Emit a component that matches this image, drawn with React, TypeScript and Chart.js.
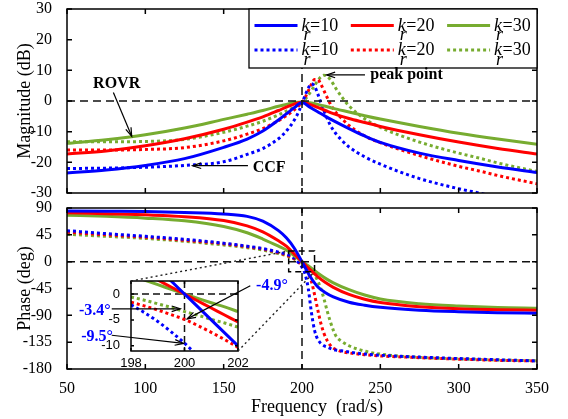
import React, { useEffect, useRef } from "react";
import { Chart, registerables } from "chart.js";
Chart.register(...registerables);

const BLUE = "#0000FF";
const RED = "#FF0000";
const GREEN = "#77AC30";
const SERIF = '"Liberation Serif", "Times New Roman", serif';
const SANS = '"Liberation Sans", Arial, sans-serif';

// ---------- data ----------
const krValues = [10, 20, 30];

const freqSolid = [50, 75, 100, 125, 150, 165, 175, 185, 190, 195, 200, 205, 210, 215, 220, 230, 240, 250, 275, 300, 325, 350];
const magRovr10 = [-23.5, -22.5, -21.0, -18.8, -15.1, -12.4, -9.8, -6.2, -4.2, -2.2, -0.5, -2.0, -3.5, -5.0, -6.4, -9.0, -11.4, -13.5, -17.0, -19.4, -21.5, -23.3];
const magRovr20 = [-17.3, -16.3, -14.6, -12.3, -9.2, -6.9, -5.2, -3.1, -2.0, -1.0, -0.4, -1.1, -2.1, -3.1, -4.1, -5.7, -7.0, -8.3, -11.0, -13.4, -15.5, -17.3];
const magRovr30 = [-13.8, -12.6, -11.0, -8.8, -6.0, -4.3, -3.1, -1.7, -1.1, -0.5, -0.3, -0.6, -1.1, -1.7, -2.4, -3.6, -4.8, -5.9, -8.3, -10.5, -12.4, -14.1];
const phRovr10 = [85, 84.5, 84, 82.5, 80, 76, 68, 52, 40, 23, 0, -24, -42, -52, -59, -68, -73, -76.5, -81.5, -84, -85.5, -86.5];
const phRovr20 = [82, 80.5, 78.5, 75.5, 69, 60, 50, 35, 26, 13, 0, -13, -25, -35, -43, -55, -63, -68.5, -75.5, -79, -80.5, -81.5];
const phRovr30 = [78, 76, 73, 68.5, 59, 48.5, 38, 26, 19.5, 10, 0, -9, -19, -28, -35.5, -47, -56, -62.5, -70.5, -74.5, -77, -78];

const freqDot = [50, 75, 100, 125, 150, 165, 175, 185, 190, 195, 198, 200, 202, 204, 206, 208, 210, 212, 214, 216, 218, 220, 222, 225, 230, 240, 250, 275, 300, 313, 325, 350];
const magCcf10 = [-22.0, -21.9, -21.6, -21.0, -19.8, -17.4, -15.5, -12.3, -9.8, -6.3, -3.4, -0.8, 1.8, 4.2, 5.6, 4.8, 2.4, -0.5, -3.2, -5.6, -7.8, -9.5, -10.9, -12.6, -15.0, -18.2, -20.6, -25.3, -28.6, -30.0, -31.3, -33.5];
const magCcf20 = [-16.0, -16.0, -15.8, -15.2, -13.0, -10.8, -9.0, -6.4, -4.8, -2.9, -1.5, -0.5, 1.2, 3.3, 5.5, 7.0, 7.0, 5.5, 3.4, 1.2, -0.9, -2.6, -4.0, -5.5, -8.0, -11.4, -13.6, -17.8, -21.3, -22.8, -24.3, -27.0];
const magCcf30 = [-13.3, -13.3, -13.2, -12.5, -10.2, -8.2, -6.6, -4.5, -3.3, -2.0, -1.1, -0.4, 0.6, 1.9, 3.4, 5.0, 6.6, 7.8, 8.4, 8.1, 7.0, 5.5, 3.8, 1.6, -1.6, -5.8, -8.6, -13.4, -17.0, -18.6, -20.2, -23.0];
const phCcf10 = [52, 47, 42.5, 37.5, 31, 26, 22, 16, 12.5, 6, -2.1, -9.5, -21, -45, -85, -115, -130, -137, -141, -143, -145.5, -147.5, -148.5, -149.5, -151.5, -155, -157, -160, -162.5, -163.5, -164.5, -166.5];
const phCcf20 = [49.5, 45, 41, 36, 30, 25, 21, 15, 11, 5, -1.6, -4.9, -10.3, -19, -33, -55, -80, -103, -120, -132, -140, -145, -147.5, -150.5, -153, -156, -158, -161, -163.5, -164.5, -165.5, -166.5];
const phCcf30 = [46, 42.5, 39, 34, 28, 23.5, 19.5, 13.5, 10, 4.5, -0.6, -3.4, -6.4, -10, -15, -22, -32, -45, -62, -82, -100, -115, -126, -133, -141, -150, -155, -160.5, -163, -164, -165, -166];

const freqInset = [198, 198.5, 199, 199.5, 200, 200.5, 201, 201.5, 202];
const insRovr10 = [10, 7.5, 5, 2.5, 0, -2.5, -5, -7.5, -10];
const insRovr20 = [5.4, 4.05, 2.7, 1.35, 0, -1.35, -2.7, -4.05, -5.4];
const insRovr30 = [3.6, 2.7, 1.8, 0.9, 0, -0.85, -1.7, -2.5, -3.4];
const insCcf10 = [-2.1, -3.6, -5.3, -7.3, -9.5, -12.0, -14.8, -17.8, -21.0];
const insCcf20 = [-1.6, -2.3, -3.1, -4.0, -4.9, -6.1, -7.4, -8.8, -10.3];
const insCcf30 = [-0.6, -1.2, -1.9, -2.6, -3.4, -4.1, -4.9, -5.6, -6.4];

const freqTicks = [50, 100, 150, 200, 250, 300, 350];
const magTicks = [-30, -20, -10, 0, 10, 20, 30];
const phaseTicks = [-180, -135, -90, -45, 0, 45, 90];
const insetXTicks = [198, 200, 202];
const insetYTicks = [-10, -5, 0];

const topNotes = [
  { text: "ROVR", at: [81.7, 5.6], from: [79.6, 2.8], to: [91.3, -11.5] },
  { text: "CCF", at: [179, -21.9], from: [165.5, -21.1], to: [130.2, -21.1] },
  { text: "peak point", at: [266.7, 8.5], from: [240.2, 8.5], to: [215.7, 8.5] },
];
const insetNotes = [
  { text: "-4.9°", at: [203.27, 1.58], from: [202.46, 1.58], to: [200.1, -4.8] },
  { text: "-3.4°", at: [196.65, -3.19], from: [197.28, -2.86], to: [199.84, -2.86] },
  { text: "-9.5°", at: [196.73, -8.34], from: [197.28, -7.96], to: [199.96, -9.54] },
];
const zoomBox = { f1: 191.5, f2: 208, p1: 18, p2: -17 };

// ---------- helpers ----------
const series = (freq: number[], vals: number[]) => freq.map((f, i) => ({ x: f, y: vals[i] }));

function line(label: string, data: any[], color: string, dotted: boolean, clip?: number) {
  const ds: any = {
    label,
    data,
    borderColor: color,
    backgroundColor: color,
    borderWidth: 3,
    borderDash: dotted ? [3, 3] : [],
    borderCapStyle: "butt",
    pointRadius: 0,
    fill: false,
    cubicInterpolationMode: "monotone",
    dotted,
  };
  if (clip !== undefined) ds.clip = clip;
  return ds;
}

function makeDatasets(fs: number[], fd: number[], s: number[][], d: number[][], clip?: number) {
  const colors = [BLUE, RED, GREEN];
  const out: any[] = [];
  s.forEach((v, i) => out.push(line(`k_r=${krValues[i]}`, series(fs, v), colors[i], false, clip)));
  d.forEach((v, i) => out.push(line(`k_r=${krValues[i]}`, series(fd, v), colors[i], true, clip)));
  return out;
}

function setTicks(vals: number[]) {
  return (scale: any) => {
    scale.ticks = vals.map((v) => ({ value: v }));
  };
}

function fixWidth(w: number) {
  return (s: any) => {
    s.width = w;
    s.paddingTop = 0;
    s.paddingBottom = 0;
  };
}

function drawFrame(chart: any, tickLen: number, lw: number) {
  const { ctx, chartArea: a } = chart;
  const sx = chart.scales.x;
  const sy = chart.scales.y;
  ctx.save();
  ctx.strokeStyle = "#000";
  ctx.lineWidth = lw;
  ctx.setLineDash([]);
  ctx.beginPath();
  sx.ticks.forEach((t: any) => {
    const px = sx.getPixelForValue(t.value);
    ctx.moveTo(px, a.bottom);
    ctx.lineTo(px, a.bottom - tickLen);
    ctx.moveTo(px, a.top);
    ctx.lineTo(px, a.top + tickLen);
  });
  sy.ticks.forEach((t: any) => {
    const py = sy.getPixelForValue(t.value);
    ctx.moveTo(a.left, py);
    ctx.lineTo(a.left + tickLen, py);
    ctx.moveTo(a.right, py);
    ctx.lineTo(a.right - tickLen, py);
  });
  ctx.stroke();
  ctx.strokeRect(a.left, a.top, a.right - a.left, a.bottom - a.top);
  ctx.restore();
}

function drawRefLines(chart: any, xv: number, yv: number, dash: number[], lw: number) {
  const { ctx, chartArea: a } = chart;
  const px = chart.scales.x.getPixelForValue(xv);
  const py = chart.scales.y.getPixelForValue(yv);
  ctx.save();
  ctx.strokeStyle = "#111";
  ctx.lineWidth = lw;
  ctx.setLineDash(dash);
  ctx.beginPath();
  ctx.moveTo(a.left, py);
  ctx.lineTo(a.right, py);
  ctx.moveTo(px, a.top);
  ctx.lineTo(px, a.bottom);
  ctx.stroke();
  ctx.restore();
}

function arrow(ctx: CanvasRenderingContext2D, x1: number, y1: number, x2: number, y2: number) {
  const head = 9;
  const ang = Math.atan2(y2 - y1, x2 - x1);
  ctx.save();
  ctx.strokeStyle = "#000";
  ctx.lineWidth = 1.2;
  ctx.setLineDash([]);
  ctx.beginPath();
  ctx.moveTo(x1, y1);
  ctx.lineTo(x2, y2);
  ctx.stroke();
  ctx.beginPath();
  ctx.moveTo(x2 - head * Math.cos(ang - 0.32), y2 - head * Math.sin(ang - 0.32));
  ctx.lineTo(x2, y2);
  ctx.lineTo(x2 - head * Math.cos(ang + 0.32), y2 - head * Math.sin(ang + 0.32));
  ctx.stroke();
  ctx.restore();
}

function drawNotes(chart: any, notes: any[], color: string, font: string) {
  const { ctx } = chart;
  const sx = chart.scales.x;
  const sy = chart.scales.y;
  notes.forEach((n) => {
    arrow(ctx, sx.getPixelForValue(n.from[0]), sy.getPixelForValue(n.from[1]), sx.getPixelForValue(n.to[0]), sy.getPixelForValue(n.to[1]));
    ctx.save();
    ctx.font = font;
    ctx.fillStyle = color;
    ctx.textAlign = "center";
    ctx.textBaseline = "middle";
    ctx.fillText(n.text, sx.getPixelForValue(n.at[0]), sy.getPixelForValue(n.at[1]));
    ctx.restore();
  });
}

function drawLegend(chart: any) {
  const { ctx, chartArea: a } = chart;
  const w = 288;
  const h = 59;
  const left = a.right - w;
  const top = a.top;
  ctx.save();
  ctx.fillStyle = "#fff";
  ctx.fillRect(left, top, w, h);
  ctx.strokeStyle = "#000";
  ctx.lineWidth = 1.3;
  ctx.setLineDash([]);
  ctx.strokeRect(left, top, w, h);
  chart.data.datasets.forEach((ds: any, i: number) => {
    const row = ds.dotted ? 1 : 0;
    const col = i % 3;
    const x0 = left + 5.5 + col * 96.3;
    const y0 = top + (row === 0 ? 16.5 : 41);
    ctx.strokeStyle = ds.borderColor;
    ctx.lineWidth = 3;
    ctx.lineCap = "butt";
    ctx.setLineDash(ds.borderDash);
    ctx.beginPath();
    ctx.moveTo(x0, y0);
    ctx.lineTo(x0 + 43, y0);
    ctx.stroke();
    const [kr, val] = ds.label.split("=");
    ctx.fillStyle = "#000";
    ctx.textAlign = "left";
    ctx.textBaseline = "alphabetic";
    ctx.font = `italic 18px ${SERIF}`;
    ctx.fillText(kr.charAt(0), x0 + 47, y0 + 5);
    ctx.fillText(kr.charAt(2), x0 + 49, y0 + 14.5);
    ctx.font = `18px ${SERIF}`;
    ctx.fillText("=" + val, x0 + 55.5, y0 + 5);
  });
  ctx.restore();
}

function drawText(ctx: CanvasRenderingContext2D, text: string, x: number, y: number, rot: number, font: string) {
  ctx.save();
  ctx.translate(x, y);
  ctx.rotate(rot);
  ctx.font = font;
  ctx.fillStyle = "#000";
  ctx.textAlign = "center";
  ctx.textBaseline = "middle";
  ctx.fillText(text, 0, 0);
  ctx.restore();
}

const tickFont = { family: SERIF, size: 16 };

function topConfig(): any {
  return {
    type: "line",
    data: { datasets: makeDatasets(freqSolid, freqDot, [magRovr10, magRovr20, magRovr30], [magCcf10, magCcf20, magCcf30]) },
    options: {
      responsive: false,
      animation: false,
      events: [],
      layout: { padding: { left: 0, right: 31, top: 9, bottom: 7 } },
      plugins: { legend: { display: false }, tooltip: { enabled: false } },
      scales: {
        x: {
          type: "linear", min: 50, max: 350,
          afterBuildTicks: setTicks(freqTicks),
          ticks: { display: false },
          grid: { display: false }, border: { display: false },
          afterFit: (s: any) => { s.height = 0; s.paddingLeft = 0; s.paddingRight = 0; },
        },
        y: {
          type: "linear", min: -30, max: 30,
          afterBuildTicks: setTicks(magTicks),
          ticks: { font: tickFont, color: "#000", padding: 7 },
          grid: { display: false }, border: { display: false },
          afterFit: fixWidth(67),
        },
      },
    },
    plugins: [{
      id: "topDeco",
      afterDatasetsDraw(chart: any) {
        drawRefLines(chart, 200, 0, [8, 5], 1.5);
        drawFrame(chart, 5, 1.5);
      },
      afterDraw(chart: any) {
        drawLegend(chart);
        drawNotes(chart, topNotes, "#000", `bold 16px ${SERIF}`);
        drawText(chart.ctx, "Magnitude (dB)", 25, (chart.chartArea.top + chart.chartArea.bottom) / 2, -Math.PI / 2, `18px ${SERIF}`);
      },
    }],
  };
}

function botConfig(): any {
  return {
    type: "line",
    data: { datasets: makeDatasets(freqSolid, freqDot, [phRovr10, phRovr20, phRovr30], [phCcf10, phCcf20, phCcf30]) },
    options: {
      responsive: false,
      animation: false,
      events: [],
      layout: { padding: { left: 0, right: 31, top: 8, bottom: 0 } },
      plugins: { legend: { display: false }, tooltip: { enabled: false } },
      scales: {
        x: {
          type: "linear", min: 50, max: 350,
          afterBuildTicks: setTicks(freqTicks),
          ticks: { font: tickFont, color: "#000", padding: 2, maxRotation: 0 },
          grid: { display: false }, border: { display: false },
          afterFit: (s: any) => { s.height = 50; },
        },
        y: {
          type: "linear", min: -180, max: 90,
          afterBuildTicks: setTicks(phaseTicks),
          ticks: { font: tickFont, color: "#000", padding: 7 },
          grid: { display: false }, border: { display: false },
          afterFit: fixWidth(67),
        },
      },
    },
    plugins: [{
      id: "botDeco",
      afterDatasetsDraw(chart: any) {
        drawRefLines(chart, 200, 0, [8, 5], 1.5);
        drawFrame(chart, 5, 1.5);
      },
      afterDraw(chart: any) {
        const a = chart.chartArea;
        drawText(chart.ctx, "Phase (deg)", 25, (a.top + a.bottom) / 2, -Math.PI / 2, `18px ${SERIF}`);
        drawText(chart.ctx, "Frequency  (rad/s)", 317, 207, 0, `18px ${SERIF}`);
      },
    }],
  };
}

function insetConfig(main: any): any {
  return {
    type: "line",
    data: { datasets: makeDatasets(freqInset, freqInset, [insRovr10, insRovr20, insRovr30], [insCcf10, insCcf20, insCcf30], 0) },
    options: {
      responsive: false,
      animation: false,
      events: [],
      layout: { padding: { left: 101, right: 330, top: 81, bottom: 48 } },
      plugins: { legend: { display: false }, tooltip: { enabled: false } },
      scales: {
        x: {
          type: "linear", min: 198, max: 202,
          afterBuildTicks: setTicks(insetXTicks),
          ticks: { font: { family: SANS, size: 13 }, color: "#000", padding: -3, maxRotation: 0 },
          grid: { display: false }, border: { display: false },
          afterFit: (s: any) => { s.height = 20; },
        },
        y: {
          type: "linear", min: -11, max: 2.5,
          afterBuildTicks: setTicks(insetYTicks),
          ticks: { font: { family: SANS, size: 13 }, color: "#000", padding: 3 },
          grid: { display: false }, border: { display: false },
          afterFit: fixWidth(30),
        },
      },
    },
    plugins: [{
      id: "insetDeco",
      beforeDatasetsDraw(chart: any) {
        const { ctx, chartArea: a } = chart;
        ctx.save();
        ctx.fillStyle = "#fff";
        ctx.fillRect(a.left, a.top, a.right - a.left, a.bottom - a.top);
        ctx.restore();
        drawRefLines(chart, 200, 0, [7, 4], 1.5);
      },
      afterDatasetsDraw(chart: any) {
        drawFrame(chart, 3, 1.5);
      },
      afterDraw(chart: any) {
        const { ctx, chartArea: a } = chart;
        const mx = main.scales.x;
        const my = main.scales.y;
        const bx1 = mx.getPixelForValue(zoomBox.f1);
        const bx2 = mx.getPixelForValue(zoomBox.f2);
        const by1 = my.getPixelForValue(zoomBox.p1);
        const by2 = my.getPixelForValue(zoomBox.p2);
        ctx.save();
        ctx.strokeStyle = "#000";
        ctx.lineWidth = 1.5;
        ctx.setLineDash([6, 4]);
        ctx.strokeRect(bx1, by1, bx2 - bx1, by2 - by1);
        ctx.strokeStyle = "#222";
        ctx.lineWidth = 1.4;
        ctx.setLineDash([2, 3]);
        ctx.beginPath();
        ctx.moveTo(a.left, a.top);
        ctx.lineTo(bx1, by1);
        ctx.moveTo(a.right, a.bottom);
        ctx.lineTo(bx2, by2);
        ctx.stroke();
        ctx.restore();
        drawNotes(chart, insetNotes, BLUE, `bold 16px ${SERIF}`);
      },
    }],
  };
}

export default function App() {
  const topRef = useRef<HTMLCanvasElement>(null);
  const botRef = useRef<HTMLCanvasElement>(null);
  const insRef = useRef<HTMLCanvasElement>(null);
  useEffect(() => {
    document.body.style.margin = "0";
    const top = new Chart(topRef.current as HTMLCanvasElement, topConfig());
    const bot = new Chart(botRef.current as HTMLCanvasElement, botConfig());
    const ins = new Chart(insRef.current as HTMLCanvasElement, insetConfig(bot));
    return () => {
      top.destroy();
      bot.destroy();
      ins.destroy();
    };
  }, []);
  return (
    <div style={{ position: "relative", width: 568, height: 419, background: "#fff", overflow: "hidden" }}>
      <canvas ref={topRef} width={568} height={200} style={{ position: "absolute", left: 0, top: 0 }} />
      <canvas ref={botRef} width={568} height={219} style={{ position: "absolute", left: 0, top: 200 }} />
      <canvas ref={insRef} width={568} height={219} style={{ position: "absolute", left: 0, top: 200 }} />
    </div>
  );
}
